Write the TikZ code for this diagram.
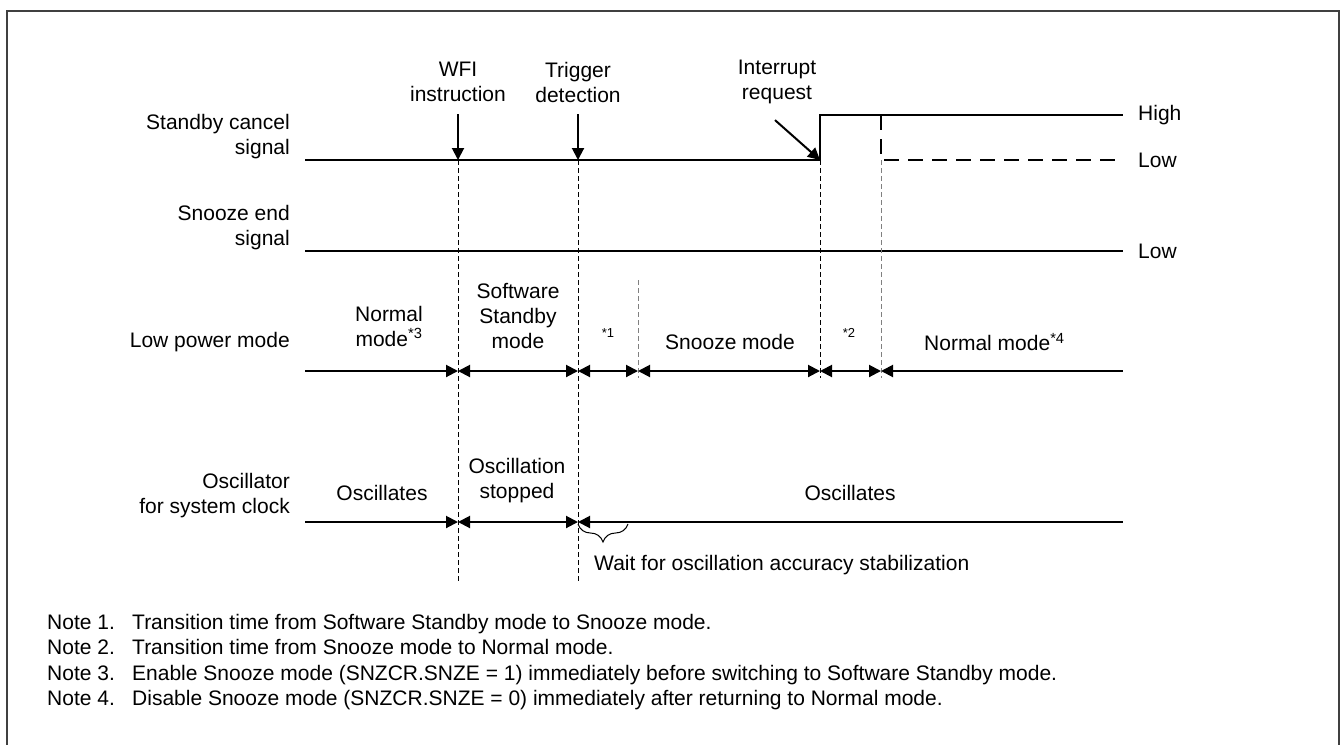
\documentclass[tikz,border=0pt]{standalone}
\usepackage{fontspec}
\setmainfont{Liberation Sans}
\usepackage{tikz}
\usetikzlibrary{arrows.meta, positioning, calc, decorations.pathreplacing}
\tikzset{
	lbl/.style      ={inner sep=0pt, align=center, font=\fontsize{21}{25}\selectfont},
	rlbl/.style     ={lbl, align=right, anchor=east},
	sup/.style      ={inner sep=0pt, font=\fontsize{13}{15}\selectfont},
	sigline/.style  ={line width=2pt},
	lowdash/.style  ={line width=2pt, dash pattern=on 15pt off 9pt},
	tmark/.style    ={line width=1pt, dash pattern=on 5pt off 3pt},
	tmarkgray/.style={tmark, draw=black!50},
	evarrow/.style  ={line width=2pt, -{Triangle[length=12pt, width=12pt]}},
	span/.style     ={line width=2pt, {Triangle[length=12pt, width=12pt]}-{Triangle[length=12pt, width=12pt]}},
	spanr/.style    ={line width=2pt, -{Triangle[length=12pt, width=12pt]}},
	spanl/.style    ={line width=2pt, {Triangle[length=12pt, width=12pt]}-},
}

\begin{document}
\begin{tikzpicture}[x=1pt, y=-1pt,
					frame/.style={line width=2pt, draw=black!75},
					brace/.style={line width=1pt, decorate, decoration={brace, mirror, amplitude=18pt}}]
	\useasboundingbox (0,0) rectangle (1340,744);
	\draw[frame] (7,748) -- (7,11) -- (1339,11) -- (1339,748);
	% time marks
	\coordinate (tL) at (305,0);
	\coordinate (tW) at (458,0);
	\coordinate (tT) at (578,0);
	\coordinate (tS) at (638,0);
	\coordinate (tI) at (820,0);
	\coordinate (tE) at (881,0);
	\coordinate (tR) at (1123,0);
	% levels of the rows
	\coordinate (yHi)  at (0,115);
	\coordinate (yStb) at (0,160);
	\coordinate (ySnz) at (0,251);
	\coordinate (yGry) at (0,280);
	\coordinate (yLpm) at (0,371);
	\coordinate (yMk)  at (0,378);
	\coordinate (yOsc) at (0,522);
	\coordinate (yBot) at (0,582);

	% row labels
	\node[rlbl] (lStb) at (290,137) {Standby cancel\\signal};
	\node[rlbl] (lSnz) at (290,228) {Snooze end\\signal};
	\node[rlbl] (lLpm) at (290,342) {Low power mode};
	\node[rlbl] (lOsc) at (290,496) {Oscillator\\for system clock};

	% events
	\node[lbl] (eWFI)  at (458,82) {WFI\\instruction};
	\node[lbl] (eTrig) at (578,82) {Trigger\\detection};
	\node[lbl] (eInt)  at (777,82) {Interrupt\\request};
	\draw[evarrow, shorten <=12pt] (eWFI.south) -- (tW |- yStb);
	\draw[evarrow, shorten <=12pt] (eTrig.south) -- (tT |- yStb);
	\draw[evarrow] ($(eInt.south)+(-2,16)$) -- (tI |- yStb);

	% standby cancel signal
	\draw[sigline] (tL |- yStb) -- (tI |- yStb) -- (tI |- yHi) -- (tR |- yHi);
	\draw[lowdash] (tE |- yHi) -- (tE |- yStb) -- (tR |- yStb);
	\node[lbl, anchor=west] (vHi)  at (1138,115) {High};
	\node[lbl, anchor=west] (vLo1) at (1138,160) {Low};

	% snooze end signal
	\draw[sigline] (tL |- ySnz) -- (tR |- ySnz);
	\node[lbl, anchor=west] (vLo2) at (1138,251) {Low};

	% dashed time marks
	\draw[tmark] (tW |- yStb) -- (tW |- yBot);
	\draw[tmark] (tT |- yStb) -- (tT |- yBot);
	\draw[tmark] (tI |- yStb) -- (tI |- yMk);
	\draw[tmarkgray] (tE |- yStb) -- (tE |- yMk);
	\draw[tmarkgray] (tS |- yGry) -- (tS |- yMk);

	% low power mode
	\node[lbl] (mNorm) at (389,326) {Normal\\mode\textsuperscript{*3}};
	\node[lbl] (mSSt)  at (518,316) {Software\\Standby\\mode};
	\node[sup] (mT1)   at (608,333) {*1};
	\node[lbl] (mSnz)  at (730,342) {Snooze mode};
	\node[sup] (mT2)   at (849,333) {*2};
	\node[lbl, anchor=west] (mNorm2) at (924,342) {Normal mode\textsuperscript{*4}};
	\draw[spanr] (tL |- yLpm) -- (tW |- yLpm);
	\draw[span]  (tW |- yLpm) -- (tT |- yLpm);
	\draw[span]  (tT |- yLpm) -- (tS |- yLpm);
	\draw[span]  (tS |- yLpm) -- (tI |- yLpm);
	\draw[span]  (tI |- yLpm) -- (tE |- yLpm);
	\draw[spanl] (tE |- yLpm) -- (tR |- yLpm);

	% oscillator
	\node[lbl] (oOn1) at (382,493) {Oscillates};
	\node[lbl] (oOff) at (517,481) {Oscillation\\stopped};
	\node[lbl] (oOn2) at (850,493) {Oscillates};
	\draw[spanr] (tL |- yOsc) -- (tW |- yOsc);
	\draw[span]  (tW |- yOsc) -- (tT |- yOsc);
	\draw[spanl] (tT |- yOsc) -- (tR |- yOsc);
	\coordinate (wEnd) at (628,524);
	\draw[brace] (tT |- wEnd) -- (wEnd);
	\node[lbl, anchor=west] (wait) at (594,565) {Wait for oscillation accuracy stabilization};

	% notes
	\foreach \n/\txt [count=\i from 0] in {
		1/{Transition time from Software Standby mode to Snooze mode.},
		2/{Transition time from Snooze mode to Normal mode.},
		3/{Enable Snooze mode (SNZCR.SNZE = 1) immediately before switching to Software Standby mode.},
		4/{Disable Snooze mode (SNZCR.SNZE = 0) immediately after returning to Normal mode.}}{
		\node[lbl, anchor=base west] (note\n) at (47,629+25.6*\i) {Note \n.};
		\node[lbl, anchor=base west] (ntxt\n) at (132,629+25.6*\i) {\txt};
	}
\end{tikzpicture}
\end{document}
